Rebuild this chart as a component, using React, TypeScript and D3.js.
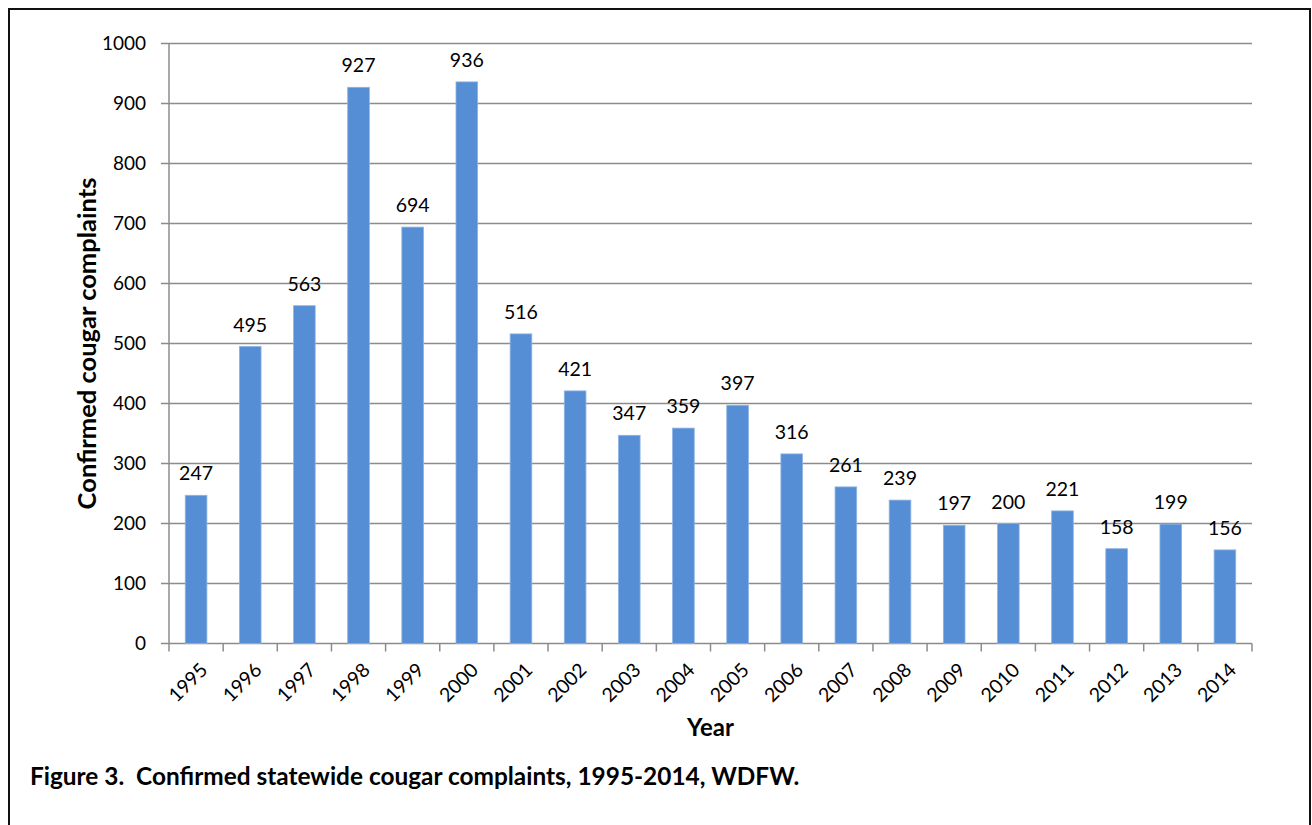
import { useEffect, useRef } from "react";
import * as d3 from "d3";

const years = [
  "1995", "1996", "1997", "1998", "1999", "2000", "2001", "2002", "2003", "2004",
  "2005", "2006", "2007", "2008", "2009", "2010", "2011", "2012", "2013", "2014",
];
const complaints = [
  247, 495, 563, 927, 694, 936, 516, 421, 347, 359,
  397, 316, 261, 239, 197, 200, 221, 158, 199, 156,
];
const yTicks = [0, 100, 200, 300, 400, 500, 600, 700, 800, 900, 1000];

const W = 1312;
const H = 825;
const FONT = "Lato, 'Open Sans', sans-serif";

export default function App() {
  const svgRef = useRef<SVGSVGElement | null>(null);

  useEffect(() => {
    if (!svgRef.current) return;
    const svg = d3.select(svgRef.current);
    svg.selectAll("*").remove();

    const left = 169;
    const right = 1252;
    const top = 43.5;
    const bottom = 643.5;

    const x = d3.scaleBand<string>().domain(years).range([left, right]).paddingInner(0.6).paddingOuter(0.3);
    const xb = d3.scaleBand<string>().domain(years).range([left, right]);
    const y = d3.scaleLinear().domain([0, 1000]).range([bottom, top]);

    // frame (bottom edge falls outside the picture)
    svg
      .append("path")
      .attr("d", `M9,${H + 5}V9H1310V${H + 5}`)
      .attr("fill", "none")
      .attr("stroke", "#111")
      .attr("stroke-width", 2);

    // gridlines + y ticks
    svg
      .append("g")
      .selectAll("line")
      .data(yTicks)
      .join("line")
      .attr("x1", left - 8)
      .attr("x2", right)
      .attr("y1", (d) => y(d))
      .attr("y2", (d) => y(d))
      .attr("stroke", "#8c8c8c")
      .attr("stroke-width", 1.5);

    svg
      .append("g")
      .selectAll("text")
      .data(yTicks)
      .join("text")
      .attr("x", left - 23)
      .attr("y", (d) => y(d))
      .attr("dy", "0.35em")
      .attr("text-anchor", "end")
      .attr("font-family", FONT)
      .attr("font-size", 19)
      .attr("fill", "#000")
      .text((d) => d);

    // bars
    svg
      .append("g")
      .selectAll("rect")
      .data(complaints)
      .join("rect")
      .attr("x", (_, i) => x(years[i])!)
      .attr("width", x.bandwidth())
      .attr("y", (d) => y(d))
      .attr("height", (d) => bottom - y(d))
      .attr("fill", "#558ed5")
      .attr("stroke", "#8eb4e3")
      .attr("stroke-width", 0.8);

    // value labels
    svg
      .append("g")
      .selectAll("text")
      .data(complaints)
      .join("text")
      .attr("x", (_, i) => x(years[i])! + x.bandwidth() / 2)
      .attr("y", (d) => y(d) - 15)
      .attr("text-anchor", "middle")
      .attr("font-family", FONT)
      .attr("font-size", 19.5)
      .attr("fill", "#000")
      .text((d) => d);

    // y axis line
    svg
      .append("line")
      .attr("x1", left)
      .attr("x2", left)
      .attr("y1", top)
      .attr("y2", bottom)
      .attr("stroke", "#8c8c8c")
      .attr("stroke-width", 1.5);

    const xTickPos = years.map((yr) => xb(yr)!).concat([right]);
    svg
      .append("g")
      .selectAll("line")
      .data(xTickPos)
      .join("line")
      .attr("x1", (d) => d)
      .attr("x2", (d) => d)
      .attr("y1", bottom)
      .attr("y2", bottom + 8)
      .attr("stroke", "#8c8c8c")
      .attr("stroke-width", 1.5);

    svg
      .append("g")
      .selectAll("text")
      .data(years)
      .join("text")
      .attr("transform", (d) => `translate(${xb(d)! + xb.bandwidth() / 2 + 3},${bottom + 18}) rotate(-45)`)
      .attr("text-anchor", "end")
      .attr("dy", "0.7em")
      .attr("font-family", FONT)
      .attr("font-size", 19.5)
      .attr("fill", "#000")
      .text((d) => d);

    // axis titles
    svg
      .append("text")
      .attr("x", (left + right) / 2)
      .attr("y", 736)
      .attr("text-anchor", "middle")
      .attr("font-family", FONT)
      .attr("font-weight", "bold")
      .attr("font-size", 24)
      .text("Year");

    svg
      .append("text")
      .attr("transform", `translate(96,${(top + bottom) / 2}) rotate(-90)`)
      .attr("text-anchor", "middle")
      .attr("font-family", FONT)
      .attr("font-weight", "bold")
      .attr("font-size", 25.5)
      .text("Confirmed cougar complaints");

    // caption
    svg
      .append("text")
      .attr("x", 30)
      .attr("y", 785)
      .attr("font-family", FONT)
      .attr("font-weight", "bold")
      .attr("font-size", 24.4)
      .style("white-space", "pre")
      .text("Figure 3.  Confirmed statewide cougar complaints, 1995-2014, WDFW.");
  }, []);

  return (
    <svg
      ref={svgRef}
      width={W}
      height={H}
      style={{ position: "absolute", left: 0, top: 0, background: "#fff" }}
    />
  );
}
